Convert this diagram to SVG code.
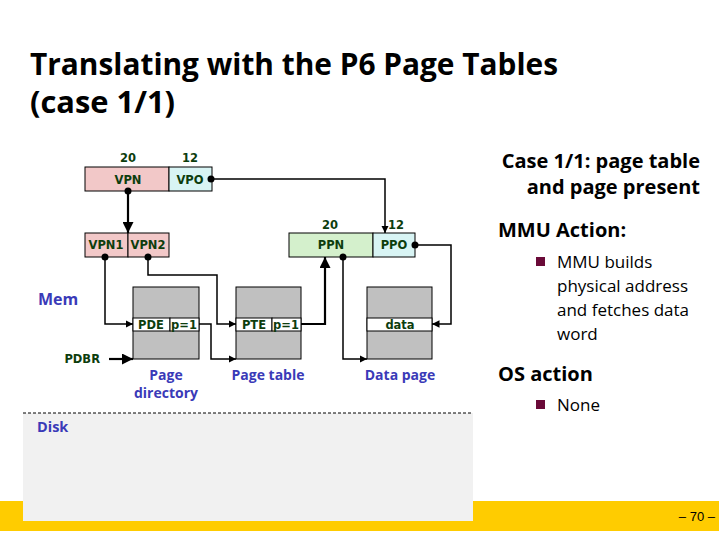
<svg xmlns="http://www.w3.org/2000/svg" width="719" height="539" viewBox="0 0 719 539">
<defs>
<marker id="arr" viewBox="0 0 10 10" refX="10" refY="5" markerWidth="5" markerHeight="5" orient="auto" markerUnits="strokeWidth">
<path d="M0,0 L10,5 L0,10 z" fill="#000"/>
</marker>
<style>
.title{font-family:"Open Sans","Liberation Sans",sans-serif;font-weight:bold;font-size:30px;fill:#000}
.head{font-family:"Open Sans","Liberation Sans",sans-serif;font-weight:bold;font-size:20px;fill:#000}
.body{font-family:"Open Sans","Liberation Sans",sans-serif;font-size:17px;fill:#000}
.lbl{font-family:"DejaVu Sans",sans-serif;font-weight:bold;font-size:11.5px;fill:#0d3d0d;text-anchor:middle}
.blue{font-family:"Open Sans","Liberation Sans",sans-serif;font-weight:bold;font-size:14px;fill:#3a3ab8}
.box{stroke:#000;stroke-width:1}
.blk{fill:#c0c0c0;stroke:#000;stroke-width:1}
.row{fill:#fff;stroke:#000;stroke-width:1}
.ln{fill:none;stroke:#000;stroke-width:1.5}
.lt{fill:none;stroke:#000;stroke-width:2.2}
.bul{fill:#6a0a38}
</style>
</defs>
<rect width="719" height="539" fill="#fff"/>
<g id="footer">
<rect x="0" y="501" width="719" height="30" fill="#ffcc00"/>
<text x="715" y="521" text-anchor="end" font-family="Liberation Sans, sans-serif" font-size="13" fill="#000">– 70 –</text>
</g>
<g id="disk">
<rect x="23" y="413" width="450" height="108" fill="#f1f1f1"/>
<line x1="23" y1="413" x2="473" y2="413" stroke="#000" stroke-width="1" stroke-dasharray="3,2"/>
<text x="37" y="432" class="blue" style="font-size:14.5px">Disk</text>
</g>
<g id="title">
<text x="30" y="75" class="title" textLength="528" lengthAdjust="spacingAndGlyphs">Translating with the P6 Page Tables</text>
<text x="30" y="113" class="title" textLength="145" lengthAdjust="spacingAndGlyphs">(case 1/1)</text>
</g>
<g id="side">
<text x="700" y="168" class="head" text-anchor="end">Case 1/1: page table</text>
<text x="700" y="194" class="head" text-anchor="end">and page present</text>
<text x="498" y="237" class="head">MMU Action:</text>
<rect x="536" y="257" width="9" height="9" class="bul"/>
<text x="557" y="268" class="body">MMU builds</text>
<text x="557" y="292" class="body">physical address</text>
<text x="557" y="316" class="body">and fetches data</text>
<text x="557" y="340" class="body">word</text>
<text x="498" y="381" class="head">OS action</text>
<rect x="536" y="400" width="9" height="9" class="bul"/>
<text x="557" y="411" class="body">None</text>
</g>
<g id="va">
<rect x="85" y="167" width="84" height="24" fill="#f2c8c8" class="box"/>
<rect x="169" y="167" width="43" height="24" fill="#d8f4f4" class="box"/>
<text x="128" y="162" class="lbl">20</text>
<text x="190" y="162" class="lbl">12</text>
<text x="128" y="184" class="lbl">VPN</text>
<text x="190" y="184" class="lbl">VPO</text>
</g>
<g id="vpn12">
<rect x="85" y="233" width="43" height="24" fill="#f2c8c8" class="box"/>
<rect x="128" y="233" width="41" height="24" fill="#f2c8c8" class="box"/>
<text x="106" y="249" class="lbl">VPN1</text>
<text x="148" y="249" class="lbl">VPN2</text>
</g>
<g id="pa">
<rect x="289" y="233" width="84" height="24" fill="#d4f0cc" class="box"/>
<rect x="373" y="233" width="42" height="24" fill="#d8f4f4" class="box"/>
<text x="330" y="229" class="lbl">20</text>
<text x="396" y="229" class="lbl">12</text>
<text x="331" y="249" class="lbl">PPN</text>
<text x="394" y="249" class="lbl">PPO</text>
</g>
<g id="mem">
<text x="38" y="305" class="blue" style="font-size:16px">Mem</text>
<text x="100" y="363" class="lbl" style="text-anchor:end">PDBR</text>
</g>
<g id="pagedir">
<rect x="133" y="287" width="66" height="72" class="blk"/>
<rect x="133" y="318" width="37" height="13" class="row"/>
<rect x="170" y="318" width="29" height="13" class="row"/>
<text x="151" y="329" class="lbl">PDE</text>
<text x="184" y="329" class="lbl">p=1</text>
<text x="166" y="380" class="blue" text-anchor="middle">Page</text>
<text x="166" y="398" class="blue" text-anchor="middle">directory</text>
</g>
<g id="pagetable">
<rect x="236" y="287" width="65" height="72" class="blk"/>
<rect x="236" y="318" width="36" height="13" class="row"/>
<rect x="272" y="318" width="29" height="13" class="row"/>
<text x="254" y="329" class="lbl">PTE</text>
<text x="286" y="329" class="lbl">p=1</text>
<text x="268" y="380" class="blue" text-anchor="middle">Page table</text>
</g>
<g id="datapage">
<rect x="367" y="287" width="65" height="72" class="blk"/>
<rect x="367" y="318" width="65" height="13" class="row"/>
<text x="400" y="329" class="lbl">data</text>
<text x="400" y="380" class="blue" text-anchor="middle">Data page</text>
</g>
<g id="connectors">
<circle cx="128" cy="191" r="3.5" fill="#000"/>
<line x1="128" y1="191" x2="128" y2="233" class="lt" marker-end="url(#arr)"/>
<circle cx="211" cy="179" r="3.5" fill="#000"/>
<polyline points="211,179 385,179 385,233" class="ln" marker-end="url(#arr)"/>
<circle cx="105" cy="257" r="3.5" fill="#000"/>
<polyline points="105,257 105,324 133,324" class="ln" marker-end="url(#arr)"/>
<circle cx="148" cy="257" r="3.5" fill="#000"/>
<polyline points="148,257 148,275 217,275 217,324 236,324" class="ln" marker-end="url(#arr)"/>
<line x1="109" y1="359" x2="133" y2="359" class="lt" marker-end="url(#arr)"/>
<polyline points="199,324 211,324 211,359 236,359" class="ln" marker-end="url(#arr)"/>
<polyline points="301,324 325,324 325,257" class="lt" marker-end="url(#arr)"/>
<circle cx="343" cy="257" r="3.5" fill="#000"/>
<polyline points="343,257 343,359 367,359" class="ln" marker-end="url(#arr)"/>
<circle cx="415" cy="245" r="3.5" fill="#000"/>
<polyline points="415,245 451,245 451,324 432,324" class="ln" marker-end="url(#arr)"/>
</g>
</svg>
